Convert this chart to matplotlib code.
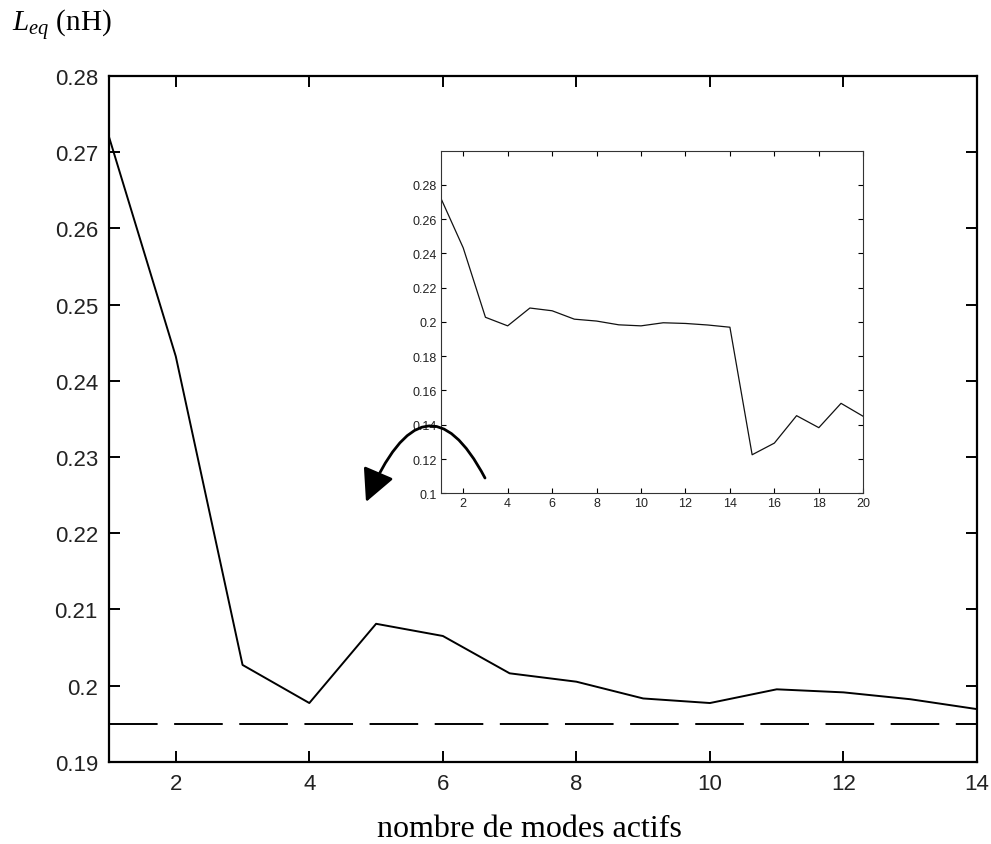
import matplotlib
matplotlib.use("Agg")
import matplotlib.pyplot as plt
from matplotlib.patches import FancyArrowPatch
from matplotlib.path import Path

plt.rcParams["mathtext.fontset"] = "custom"
plt.rcParams["mathtext.rm"] = "Liberation Serif"
plt.rcParams["mathtext.it"] = "Liberation Serif:italic"

# nombre de modes actifs
modes = list(range(1, 21))
# inductance equivalente (nH)
l_eq = [0.2720, 0.2432, 0.2027, 0.1977, 0.2081, 0.2065, 0.2016, 0.2005,
        0.1983, 0.1977, 0.1995, 0.1991, 0.1982, 0.1969,
        0.1225, 0.1293, 0.1453, 0.1383, 0.1525, 0.1449]
l_ref = 0.1950
n_main = 14

main_xticks = [2, 4, 6, 8, 10, 12, 14]
main_yticks = [0.19, 0.20, 0.21, 0.22, 0.23, 0.24, 0.25, 0.26, 0.27, 0.28]
main_ylabels = ["0.19", "0.2", "0.21", "0.22", "0.23", "0.24", "0.25", "0.26", "0.27", "0.28"]
ins_xticks = [2, 4, 6, 8, 10, 12, 14, 16, 18, 20]
ins_yticks = [0.10, 0.12, 0.14, 0.16, 0.18, 0.20, 0.22, 0.24, 0.26, 0.28]
ins_ylabels = ["0.1", "0.12", "0.14", "0.16", "0.18", "0.2", "0.22", "0.24", "0.26", "0.28"]

fig = plt.figure(figsize=(9.91, 8.45), dpi=100)

# axes principal
ax = fig.add_axes([0.110, 0.0974, 0.8759, 0.8115])
ax.plot(modes[:n_main], l_eq[:n_main], color="black", lw=1.4)
ax.plot([modes[0], modes[n_main - 1]], [l_ref, l_ref], color="black", lw=1.4,
        linestyle=(0, (25, 8.5)))
ax.set_xlim(1, 14)
ax.set_ylim(0.19, 0.28)
ax.set_xticks(main_xticks)
ax.set_yticks(main_yticks)
ax.set_yticklabels(main_ylabels)
ax.tick_params(direction="in", length=8, width=1.4, top=True, right=True,
               labelsize=16, pad=8)
for lab in ax.get_xticklabels() + ax.get_yticklabels():
    lab.set_fontfamily("Liberation Sans")
    lab.set_color("#222222")
for s in ax.spines.values():
    s.set_linewidth(1.6)

# encart
ins = fig.add_axes([0.445, 0.415, 0.4261, 0.4047])
ins.plot(modes, l_eq, color="#111111", lw=0.9)
ins.set_xlim(1, 20)
ins.set_ylim(0.1, 0.2995)
ins.set_xticks(ins_xticks)
ins.set_yticks(ins_yticks)
ins.set_yticklabels(ins_ylabels)
ins.tick_params(direction="in", length=3.5, width=0.8, top=True, right=True,
                labelsize=9, pad=3)
for lab in ins.get_xticklabels() + ins.get_yticklabels():
    lab.set_fontfamily("Liberation Sans")
    lab.set_color("#222222")
for s in ins.spines.values():
    s.set_linewidth(0.8)
    s.set_color("#333333")

# textes
fig.text(0.012, 0.962, r"$\mathit{L}_{\mathit{eq}}$ (nH)", fontsize=21,
         family="Liberation Serif", va="baseline", ha="left")
fig.text(0.534, 0.009, "nombre de modes actifs", fontsize=23,
         family="Liberation Serif", ha="center", va="baseline")

# fleche courbe
W, H = 991.0, 845.0
p0, c, p2 = (485, 479), (425, 365), (366, 503)
verts = [(x / W, 1 - y / H) for x, y in (p0, c, p2)]
arrow = FancyArrowPatch(path=Path(verts, [Path.MOVETO, Path.CURVE3, Path.CURVE3]),
                        arrowstyle="-|>,head_length=1.0,head_width=0.5",
                        mutation_scale=20, lw=2.0, color="black",
                        transform=fig.transFigure)
fig.patches.append(arrow)

fig.savefig("out.png", dpi=100)
